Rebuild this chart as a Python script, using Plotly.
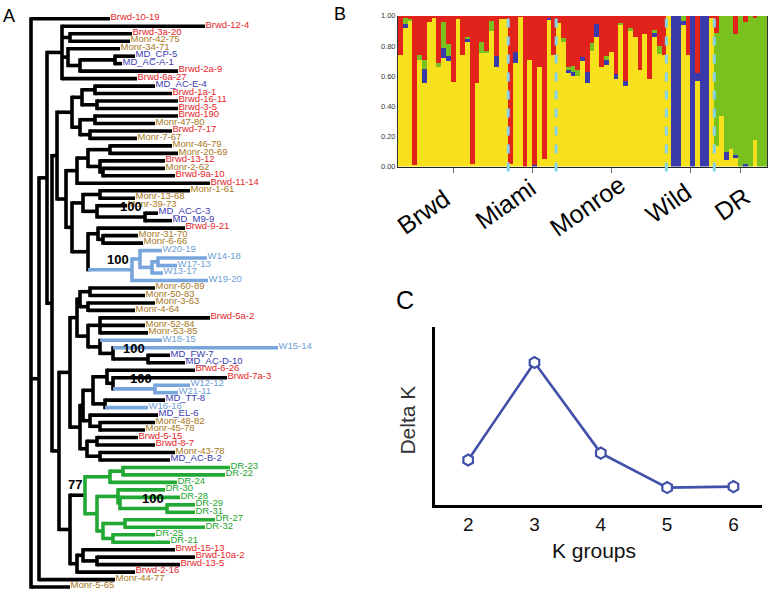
import re
import plotly.graph_objects as go

W, H = 778, 597

RED = "#E5262A"
BROWN = "#A8781C"
DKBLUE = "#3B3BB2"
LTBLUE = "#6E9FD8"
GREEN = "#1EA62E"
BLACK = "#000000"

# ---- panel A: neighbour-joining tree, Newick pieces (branch lengths) ----
CLADE_T = "(Brwd-12-4:143,(Brwd-3a-20:62,Monr-42-75:60):8,(Monr-34-71:52,((MD_CP-5:20,MD_AC-A-1:7):35,Brwd-2a-9:98):12):6,Brwd-6a-27:75)"
CLADE_U = "(((MD_AC-E-4:60,Brwd-1a-1:77):13,(Brwd-16-11:81,Brwd-3-5:81):15):10,((Brwd-190:83,Monr-47-80:60):15,(Brwd-7-17:82,Monr-7-67:47):10):8)"
CLADE_V1 = "((Monr-46-79:62,Monr-20-69:68):22,(Brwd-13-12:65,(Monr-2-62:62,Brwd-9a-10:72):3):12)"
CLADE_V3 = "((Monr-1-61:90,Monr-13-68:35):17,(Monr-39-73:30,(MD_AC-C-3:13,MD_M9-9:27)100:48):14)"
CLADE_WILD = "((W20-19:22,((W14-18:49,W17-13:19):6,W13-17:11):12):8,W19-20:76)100"
CLADE_X1 = "(((Monr-60-89:65,Monr-50-83:55):10,(Monr-3-63:67,Monr-4-64:47):8):3,((Brwd-5a-2:110,Monr-52-84:45,Monr-53-85:48):12,(W18-15:62,(W15-14:165,(MD_FW-7:22,MD_AC-D-10:37)100:35):13):12):11)"
CLADE_X2 = "((((Brwd-6-26:88,(Brwd-7a-3:114,(W12-12:35,W21-11:23)100:42):6):14,(MD_TT-8:60,W16-16:43):12):10,(MD_EL-6:68,(Monr-48-82:55,Monr-45-78:45):10):7):3,((Brwd-5-15:41,Brwd-8-7:58):10,(Monr-43-78:75,MD_AC-B-2:70):13):7)"
CLADE_DRA = "((DR-23:107,DR-22:102):13,DR-24:67)"
CLADE_DRC = "(DR-30:47,(DR-28:60,(DR-29:28,DR-31:28)100:47):2)"
CLADE_DRD = "((DR-27:90,DR-32:80):22,(DR-25:42,DR-21:57):10)"
CLADE_B1 = "((Brwd-15-13:92,(Brwd-10a-2:98,Brwd-13-5:83):14):6,Brwd-2-16:58)"

V4 = "((Brwd-9-21:87,(Monr-31-70:35,Monr-6-66:40):5):10," + CLADE_WILD + ":44)"
V = "((" + CLADE_V1 + ":11,Brwd-11-14:133):11,(" + CLADE_V3 + ":11," + V4 + ":16):6)"
UV = "(" + CLADE_U + ":15," + V + ":9)"
X = "(" + CLADE_X1 + ":7," + CLADE_X2 + ":10)"
DR = "(" + CLADE_DRA + ":25,(" + CLADE_DRC + ":21," + CLADE_DRD + ":6):12)77"
DRB = "(" + DR + ":15," + CLADE_B1 + ":7)"
N3 = "(" + UV + ":5,(" + X + ":11," + DRB + ":11):7)"
N1 = "((" + CLADE_T + ":15," + N3 + ":5):8,Monr-44-77:76)"
TREE = "(Brwd-10-19:79," + N1 + ":8,Monr-5-65:39)"

# ---- panel B: STRUCTURE ancestry proportions (K=4) per individual ----
POPS = ["Brwd", "Miami", "Monroe", "Wild", "DR"]
POP_SIZES = [23, 10, 23, 10, 11]
Q_YELLOW = [
    .74, .92, .97, .01, .71, .555, .96, .99, .66, .72, .70, .565, .98, .74, .825, .02, .555, .755, .76, .90, .66, .98, .98,
    .015, .685, .995, 0, .705, 0, .66, .05, .975, .74,
    .955, .83, .62, .60, .60, .70, .555, .77, .86, .66, .675, .76, .585, .945, .535, .90, .86, .64, .88, .58, .86, .75, .74,
    1, 0, 0, .94, .74, 0, .57, 0, 0, .99,
    .135, .335, .045, .12, .055, 0, 0, 0, .175, 0, 0,
]
Q_BLUE = [
    0, .03, 0, 0, 0, .095, 0, 0, 0, .07, .035, 0, 0, 0, .025, 0, 0, 0, 0, 0, .075, 0, 0,
    0, .075, 0, 0, 0, .01, 0, 0, .01, 0,
    0, 0, .02, .03, 0, .03, .075, 0, .09, 0, .03, 0, .03, 0, .035, 0, 0, 0, 0, 0, .03, 0, 0,
    0, 1, 1, .025, 0, 1, .05, 1, 1, 0,
    0, 0, .055, 0, .02, 0, .02, 0, 0, 0, 0,
]
Q_GREEN = [
    0, .035, .01, 0, .03, .055, 0, 0, .03, .17, .08, 0, 0, 0, .01, 0, 0, .07, .01, .07, 0, 0, 0,
    0, 0, 0, 0, 0, 0, 0, 0, 0, 0,
    0, .025, .02, .04, .04, 0, 0, .05, 0, 0, .03, 0, 0, .01, 0, .02, 0, 0, 0, 0, .02, .05, 0,
    0, 0, 0, .035, 0, 0, 0, 0, 0, 0,
    .755, .665, .90, .88, .805, 1, .94, 1, .81, 1, 1,
]
Q_RED = [
    .26, .015, .02, .99, .26, .295, .04, .01, .31, .04, .185, .435, .02, .26, .14, .98, .445, .175, .23, .03, .265, .02, .02,
    .985, .24, .005, 1, .295, .99, .34, .95, .015, .26,
    .045, .145, .34, .33, .36, .27, .37, .18, .05, .34, .265, .24, .385, .045, .43, .08, .14, .36, .12, .42, .09, .20, .26,
    0, 0, 0, 0, .26, 0, .38, 0, 0, .01,
    .11, 0, 0, 0, .12, 0, .04, 0, .015, 0, 0,
]

# ---- panel C: Evanno delta K ----
K_GROUPS = [2, 3, 4, 5, 6]
DELTA_K = [46, 145, 53, 18, 19]


def parse_newick(s):
    pos = 0

    def node():
        nonlocal pos
        kids = []
        if s[pos] == "(":
            pos += 1
            while True:
                kids.append(node())
                if s[pos] == ",":
                    pos += 1
                    continue
                pos += 1
                break
        name = re.match(r"[^:,()]*", s[pos:]).group(0)
        pos += len(name)
        length = 0.0
        if pos < len(s) and s[pos] == ":":
            m = re.match(r":([0-9.]+)", s[pos:])
            length = float(m.group(1))
            pos += len(m.group(0))
        return {"name": name, "len": length, "kids": kids}

    return node()


def group_of(name):
    for p, g in (("Brwd", "Brwd"), ("Monr", "Monr"), ("MD_", "MD"), ("DR", "DR"), ("W", "W")):
        if name.startswith(p):
            return g


LABEL_COL = {"Brwd": RED, "Monr": BROWN, "MD": DKBLUE, "W": LTBLUE, "DR": GREEN}
LINE_COL = {"W": "#78A6DC", "DR": "#22A834"}

root = parse_newick(TREE)
leaves = []


def place(n, x0):
    n["x"] = x0 + n["len"]
    if not n["kids"]:
        n["y"] = len(leaves)
        leaves.append(n)
        n["groups"] = {group_of(n["name"])}
        return
    for k in n["kids"]:
        place(k, n["x"])
    n["y"] = (n["kids"][0]["y"] + n["kids"][-1]["y"]) / 2
    n["groups"] = set().union(*[k["groups"] for k in n["kids"]])


place(root, 0)


def own_col(n):
    if len(n["groups"]) == 1:
        return LINE_COL.get(next(iter(n["groups"])), BLACK)
    return BLACK


segs = {}
boots = []


def add(col, xs, ys):
    sx, sy = segs.setdefault(col, ([], []))
    sx += xs + [None]
    sy += ys + [None]


def walk(n, parent=None):
    if parent is not None:
        c = own_col(n)
        # DR clade hangs on a black stem, wild clades keep their colour down to the stem
        if c != BLACK and own_col(parent) == BLACK and next(iter(n["groups"])) != "W":
            c = BLACK
        add(c, [parent["x"], n["x"]], [n["y"], n["y"]])
    if n["kids"]:
        y0, y1 = n["kids"][0]["y"], n["kids"][-1]["y"]
        add(own_col(n), [n["x"], n["x"]], [y0 - 0.22, y1 + 0.22])
        if n["name"]:
            boots.append(n)
        for k in n["kids"]:
            walk(k, n)


walk(root)

fig = go.Figure()

for col, (xs, ys) in segs.items():
    fig.add_trace(go.Scatter(x=xs, y=ys, mode="lines", line=dict(color=col, width=3.6),
                             hoverinfo="skip", xaxis="x", yaxis="y"))

fig.add_trace(go.Scatter(
    x=[l["x"] + 0.5 for l in leaves], y=[l["y"] - 0.15 for l in leaves],
    mode="text", text=[l["name"] for l in leaves], textposition="middle right",
    textfont=dict(size=9.5, color=[LABEL_COL[group_of(l["name"])] for l in leaves],
                  family="Liberation Sans Narrow, Liberation Sans, Arial, sans-serif"),
    cliponaxis=False, hoverinfo="skip", xaxis="x", yaxis="y"))

annotations = []
for b in boots:
    annotations.append(dict(x=b["x"] - 1, y=b["y"], xref="x", yref="y", text="<b>%s</b>" % b["name"],
                            showarrow=False, xanchor="right", yanchor="bottom", yshift=1,
                            font=dict(size=13, color=BLACK, family="Arial, Liberation Sans, sans-serif")))

# ---- panel B bars ----
xs = list(range(len(Q_YELLOW)))
for vals, col in ((Q_YELLOW, "#F6E11C"), (Q_BLUE, "#3A3AAA"), (Q_GREEN, "#78C11E"), (Q_RED, "#E1231C")):
    fig.add_trace(go.Bar(x=xs, y=vals, width=1.0, marker=dict(color=col, line=dict(width=0)),
                         hoverinfo="skip", xaxis="x2", yaxis="y2"))

bounds = []
centers = []
start = 0
for n in POP_SIZES:
    centers.append(start + (n - 1) / 2)
    start += n
    bounds.append(start - 0.5)

shapes = []
for bx in bounds[:-1]:
    shapes.append(dict(type="line", xref="x2", yref="paper", x0=bx, x1=bx, y0=1 - 170 / H, y1=1 - 10 / H,
                       line=dict(color="#86D3EA", width=3, dash="dash")))


def note(text, px, py, size, color=BLACK, angle=0):
    return dict(x=px / W, y=1 - py / H, xref="paper", yref="paper", text=text, showarrow=False,
                textangle=angle, xanchor="center", yanchor="middle",
                font=dict(size=size, color=color, family="Arial, Liberation Sans, sans-serif"))


label_pos = [(423, 211), (505, 203), (587, 205), (668, 202), (732, 203)]
for name, (px, py) in zip(POPS, label_pos):
    annotations.append(note(name, px, py, 25, angle=-35))

# ---- panel C ----
fig.add_trace(go.Scatter(
    x=K_GROUPS, y=DELTA_K, mode="lines+markers",
    line=dict(color="#4150A8", width=2.6),
    marker=dict(symbol="hexagon", size=11, color="white", line=dict(color="#4150A8", width=2.2)),
    cliponaxis=False, hoverinfo="skip", xaxis="x3", yaxis="y3"))

annotations += [
    note("Delta K", 408, 423, 21, "#333333", -90),
    note("K groups", 594, 555, 21, "#111111"),
    note("A", 9, 12, 18),
    note("B", 340, 10, 18),
    note("C", 405, 301, 25),
]

fig.update_layout(
    width=W, height=H, margin=dict(l=0, r=0, t=0, b=0),
    paper_bgcolor="white", plot_bgcolor="white",
    showlegend=False, barmode="stack", bargap=0,
    annotations=annotations, shapes=shapes,
    xaxis=dict(domain=[0, 292 / W], range=[-31, 261], visible=False, fixedrange=True),
    yaxis=dict(domain=[0, 1], range=[76 + 5 / 7.59, -15 / 7.59], visible=False),
    xaxis2=dict(domain=[398 / W, 767 / W], range=[-0.5, len(xs) - 0.5], anchor="y2",
                showline=True, linecolor="#222", linewidth=1, showgrid=False, zeroline=False,
                tickvals=centers, ticktext=[""] * len(centers), ticks="outside", ticklen=5,
                tickcolor="#666", tickwidth=1),
    yaxis2=dict(domain=[1 - 165 / H, 1 - 12 / H], range=[0, 1], anchor="x2",
                showline=True, linecolor="#333", linewidth=1, mirror=True, showgrid=False, zeroline=False,
                tickvals=[0, 0.2, 0.4, 0.6, 0.8, 1.0], tickformat=".2f",
                tickfont=dict(size=7.5, color="#333", family="Arial, Liberation Sans, sans-serif")),
    xaxis3=dict(domain=[435 / W, 762 / W], range=[1.5, 6.43], anchor="y3",
                showline=True, linecolor=BLACK, linewidth=2.5, showgrid=False, zeroline=False,
                tickvals=K_GROUPS, ticks="",
                tickfont=dict(size=19, color="#111", family="Arial, Liberation Sans, sans-serif")),
    yaxis3=dict(domain=[1 - 509 / H, 1 - 328 / H], range=[0, 181], anchor="x3",
                showline=True, linecolor=BLACK, linewidth=2.5, showgrid=False, zeroline=False,
                showticklabels=False, ticks=""),
)

fig.write_html("out.html", config={"displayModeBar": False},
               post_script="document.body.style.margin='0';")
